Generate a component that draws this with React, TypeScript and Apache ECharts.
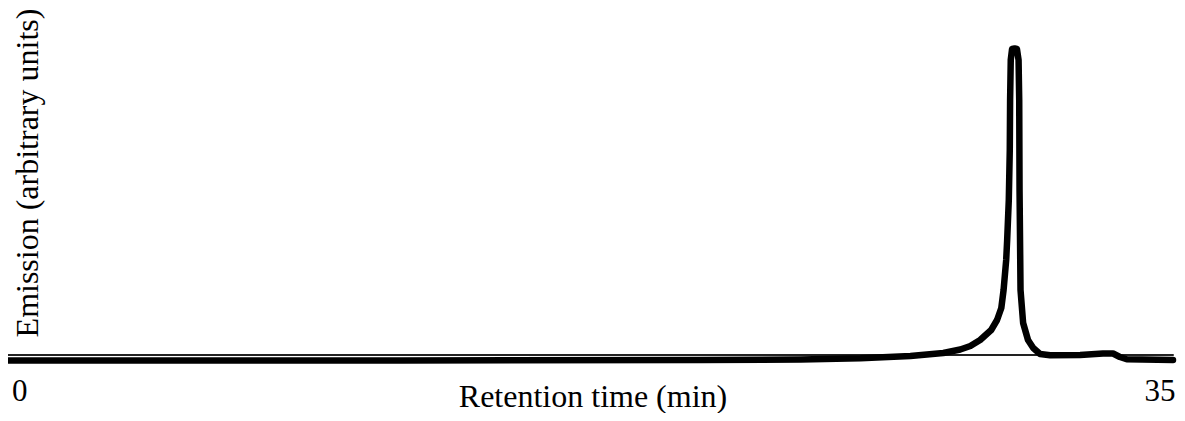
import React, { useEffect, useRef } from "react";
import * as echarts from "echarts";

// Retention time (min)
const times: number[] = [
  -0.45, 11.71, 20.9, 23.97, 25.81, 27.34, 28.35, 28.87, 29.18, 29.48, 29.82,
  30.0, 30.13, 30.2, 30.28, 30.31, 30.36, 30.39, 30.4, 30.42, 30.46, 30.54,
  30.61, 30.66, 30.68, 30.69, 30.72, 30.8, 30.95, 31.11, 31.32, 31.63, 32.55,
  33.25, 33.56, 33.77, 33.98, 35.4,
];
// Emission (arbitrary units)
const emission: number[] = [
  -1.79, -1.79, -1.63, -1.47, -1.07, -0.33, 0.65, 1.79, 2.93, 4.89, 8.14,
  11.4, 15.31, 21.17, 30.94, 37.46, 50.49, 66.78, 83.06, 96.09, 99.67, 99.84,
  99.67, 96.09, 83.06, 53.75, 21.17, 10.42, 4.89, 2.28, 0.33, -0.1, 0.0,
  0.49, 0.49, -0.65, -1.4, -1.63,
];
const xTickValues: number[] = [0, 35];
const xTitle = "Retention time (min)";
const yTitle = "Emission (arbitrary units)";

const FONT = "'Liberation Serif', 'Times New Roman', serif";

export default function App() {
  const ref = useRef<HTMLDivElement>(null);
  useEffect(() => {
    if (!ref.current) return;
    const chart = echarts.init(ref.current, undefined, { renderer: "svg" });
    const data = times.map((t, i) => [t, emission[i]]);
    chart.setOption({
      animation: false,
      backgroundColor: "#fff",
      grid: {
        left: 5,
        right: 12,
        top: 48,
        bottom: 56.8,
        containLabel: false,
        outerBoundsMode: "none",
      },
      xAxis: {
        type: "value",
        min: -0.45,
        max: 35.4,
        name: xTitle,
        nameLocation: "middle",
        nameGap: 16,
        nameMoveOverlap: false,
        nameTextStyle: {
          fontFamily: FONT,
          fontSize: 32,
          color: "#000",
          padding: [0, 0, 0, 8],
        },
        axisLine: { onZero: true, lineStyle: { color: "#222", width: 2 } },
        axisTick: { show: false },
        splitLine: { show: false },
        axisLabel: {
          customValues: xTickValues,
          fontFamily: FONT,
          fontSize: 31,
          color: "#000",
          margin: 11,
        },
      },
      yAxis: {
        type: "value",
        min: -3,
        max: 100,
        axisLine: { show: false },
        axisTick: { show: false },
        axisLabel: { show: false },
        splitLine: { show: false },
      },
      graphic: [
        {
          type: "text",
          x: 27,
          y: 173,
          rotation: Math.PI / 2,
          style: {
            text: yTitle,
            font: `32px ${FONT}`,
            fill: "#000",
            textAlign: "center",
            textVerticalAlign: "middle",
          },
        },
      ],
      series: [
        {
          type: "line",
          data,
          showSymbol: false,
          clip: false,
          lineStyle: { color: "#000", width: 6.5, cap: "round", join: "round" },
        },
      ],
    });
    return () => chart.dispose();
  }, []);
  return <div ref={ref} style={{ width: 1185, height: 421, margin: -8 }} />;
}
